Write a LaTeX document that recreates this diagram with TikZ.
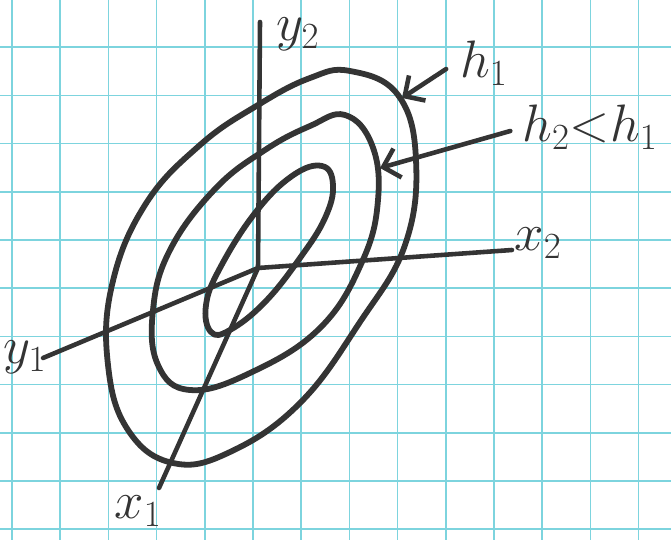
\documentclass[tikz,border=0pt]{standalone}
\usepackage{fix-cm}
\usetikzlibrary{arrows.meta}
\definecolor{ink}{RGB}{52,52,52}
\definecolor{paper}{RGB}{125,212,222}
\begin{document}
\begin{tikzpicture}[
        x=0.02cm, y=-0.02cm,
        gridline/.style={paper, line width=1pt},
        contour/.style={ink, line width=3.3pt, line join=round},
        axis/.style={ink, line width=2.6pt, line cap=round},
        pointer/.style={ink, line width=2.6pt, line cap=round, -{Straight Barb[length=3mm, width=6mm, line width=2.6pt]}},
        every node/.style={text=ink, inner sep=1pt, font=\fontsize{30}{32}\selectfont}
    ]
        \fill[white] (0,0) rectangle (671,540);
        \useasboundingbox (0,0) rectangle (671,540);

        % graph paper
        \foreach \i in {0,...,13}
            \draw[gridline] (12+48.2*\i,0) -- ++(0,540);
        \foreach \j in {0,...,11}
            \draw[gridline] (0,-1+48.2*\j) -- ++(671,0);

        % axes
        \coordinate (o) at (258,268);
        \coordinate (y2end) at (260,22);
        \coordinate (x2end) at (512,250);
        \coordinate (y1end) at (43,358);
        \coordinate (x1end) at (159,488);
        \draw[axis] (o) -- (y2end);
        \draw[axis] (o) -- (x2end);
        \draw[axis] (o) -- (y1end);
        \draw[axis] (o) -- (x1end);

        \node (y2) at (298,34) {$y_2$};
        \node (x2) at (538,243) {$x_2$};
        \node (y1) at (25,357) {$y_1$};
        \node (x1) at (138,511) {$x_1$};

        % level curves
        \draw[contour] plot[smooth cycle, tension=0.7] coordinates {
            (350,71) (398,95) (416,160) (405,245) (360,322) (300,403) (230,452)
            (173,463) (128,430) (108,365) (112,285) (145,205) (200,145) (258,105)
            (310,78)};
        \draw[contour] plot[smooth cycle, tension=0.7] coordinates {
            (345,115) (372,145) (378,200) (362,262) (320,328) (250,373) (190,390)
            (158,365) (153,310) (170,250) (215,189) (265,150) (310,126)};
        \draw[contour] plot[smooth cycle, tension=0.7] coordinates {
            (322,166) (333,185) (325,218) (300,258) (265,302) (230,330) (211,332)
            (206,305) (220,268) (255,213) (292,176)};

        % heights
        \node (h1) at (484,63) {$h_1$};
        \node (h2) at (590,127) {$h_2{<}h_1$};
        \coordinate (h1tip) at (402,98);
        \coordinate (h2tip) at (380,168);
        \draw[pointer] (h1.west) ++(-12,6) -- (h1tip);
        \draw[pointer] (h2.west) ++(-10,4) -- (h2tip);
    \end{tikzpicture}
\end{document}
